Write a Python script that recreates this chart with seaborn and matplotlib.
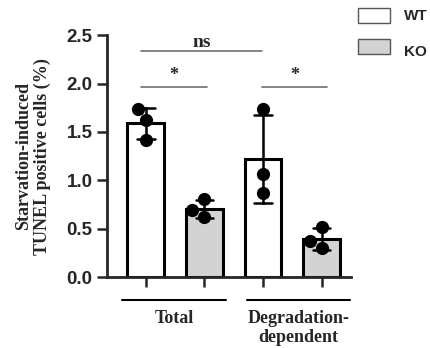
import matplotlib
matplotlib.use("Agg")
import matplotlib.pyplot as plt
import seaborn as sns
import pandas as pd
import numpy as np

sns.set_style("ticks")
plt.rcParams['font.family'] = ['Liberation Sans', 'DejaVu Sans']

groups = ["Total", "Total", "Degradation-dependent", "Degradation-dependent"]
genotypes = ["WT", "KO", "WT", "KO"]
values = [
    [1.735, 1.62, 1.415],
    [0.805, 0.69, 0.62],
    [1.735, 1.065, 0.87],
    [0.52, 0.37, 0.30],
]
group_labels = ["Total", "Degradation-\ndependent"]
yticks = [0.0, 0.5, 1.0, 1.5, 2.0, 2.5]
ylabel = "Starvation-induced\nTUNEL positive cells (%)"

rows = []
for i, (g, gt, vals) in enumerate(zip(groups, genotypes, values)):
    for v in vals:
        rows.append({"cat": f"{g} {gt}", "genotype": gt, "value": v})
df = pd.DataFrame(rows)
order = [f"{g} {gt}" for g, gt in zip(groups, genotypes)]
colors = {"WT": "white", "KO": "#d3d3d3"}
palette = [colors[gt] for gt in genotypes]

fig = plt.figure(figsize=(4.30, 3.48), dpi=100)
ax = fig.add_axes([0.249, 0.204, 0.567, 0.695])

sns.barplot(data=df, x="cat", y="value", order=order, hue="cat", hue_order=order,
            palette=palette, legend=False, errorbar="sd", capsize=0.3,
            err_kws={"color": "black", "linewidth": 1.8}, width=0.63,
            edgecolor="black", linewidth=2.2, ax=ax)
sns.swarmplot(data=df, x="cat", y="value", order=order, color="black", size=9.5,
              ax=ax, zorder=5)

ax.set_xlim(-0.66, 3.5)
ax.set_ylim(0, 2.5)
ax.set_yticks(yticks)
ax.set_yticklabels([f"{t:.1f}" for t in yticks], fontsize=13.5, fontweight="bold")
ax.set_xticks(range(4))
ax.set_xticklabels([""] * 4)
ax.set_xlabel("")
ax.set_ylabel(ylabel, family=["Liberation Serif"], fontweight="bold", fontsize=13,
              linespacing=1.05)
ax.yaxis.set_label_coords(-0.232, 0.5)
for s in ["top", "right"]:
    ax.spines[s].set_visible(False)
for s in ["left", "bottom"]:
    ax.spines[s].set_linewidth(2.0)
ax.tick_params(axis="both", width=1.8, length=7)

# significance annotations
gray = "#707070"
ax.plot([-0.08, 1.98], [2.335, 2.335], color=gray, lw=1.2, clip_on=False)
ax.text(0.95, 2.34, "ns", ha="center", va="bottom", family=["Liberation Serif"],
        fontweight="bold", fontsize=14)
for a, b in [(-0.08, 1.05), (1.98, 3.1)]:
    ax.plot([a, b], [1.963, 1.963], color=gray, lw=1.2, clip_on=False)
    ax.text((a + b) / 2, 1.99, "*", ha="center", va="bottom",
            family=["Liberation Serif"], fontweight="bold", fontsize=13)

# group lines and labels
trans = ax.get_xaxis_transform()
for (a, b), lab in zip([(-0.4, 1.37), (1.73, 3.48)], group_labels):
    ax.plot([a, b], [-0.095, -0.095], color="black", lw=1.5, transform=trans,
            clip_on=False)
    ax.text((a + b) / 2, -0.135, lab, ha="center", va="top", transform=trans,
            family=["Liberation Serif"], fontweight="bold", fontsize=13,
            linespacing=1.15)

# legend
for y, lab, c in [(0.955, "WT", "white"), (0.866, "KO", "#d3d3d3")]:
    fig.patches.append(plt.Rectangle((0.833, y - 0.02), 0.074, 0.043,
                                     transform=fig.transFigure, facecolor=c,
                                     edgecolor="#555555", lw=1.0))
    fig.text(0.94, y if lab == "WT" else y - 0.015, lab, ha="left", va="center",
             fontweight="bold", fontsize=11)

fig.savefig("out.png", dpi=100)
